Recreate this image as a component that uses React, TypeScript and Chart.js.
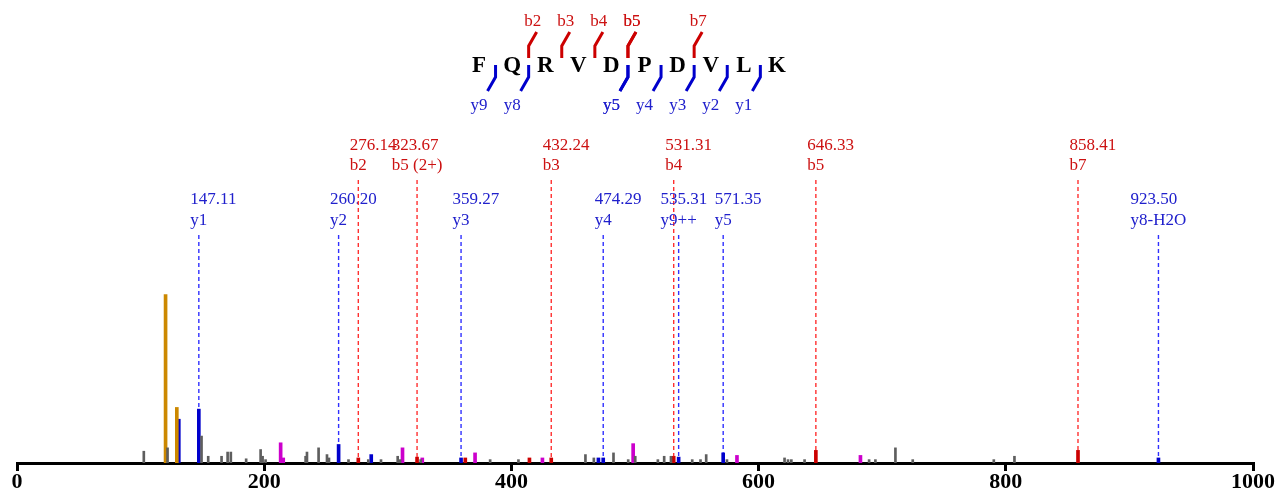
import React, { useEffect, useRef } from "react";
import { Chart, registerables } from "chart.js";

Chart.register(...registerables);

// ---------- data ----------
const sequence = ["F", "Q", "R", "V", "D", "P", "D", "V", "L", "K"];
const bFragments = [2, 3, 4, 5, 5, 7];
const yFragments = [9, 8, 5, 5, 4, 3, 2, 1];

const annotatedMz = [147.11, 260.2, 276.14, 323.67, 359.27, 432.24, 474.29, 531.31, 535.31, 571.35, 646.33, 858.41, 923.5];
const annotatedIon = ["y1", "y2", "b2", "b5 (2+)", "y3", "b3", "y4", "b4", "y9++", "y5", "b5", "b7", "y8-H2O"];
const annotatedIntensity = [32, 11, 3, 3.5, 3, 3, 3, 4, 3.5, 6, 7.5, 7.5, 3];

const orangeMz = [120.2, 129.3];
const orangeInt = [100, 33];
const blueMz = [130.9, 286.6, 470.4];
const blueInt = [26, 5, 3];
const redMz = [362.7, 414.6];
const redInt = [3, 3];
const magentaMz = [213.3, 215.4, 311.9, 327.9, 370.6, 425.1, 498.5, 582.5, 682.4];
const magentaInt = [12, 3, 9, 3, 6, 3, 11.5, 4.5, 4.5];
const grayMz = [102.6, 121.8, 149.3, 154.7, 165.5, 170.4, 173, 185.4, 197.1, 198.7, 201.1, 233.5, 234.6, 244, 250.8, 252.4, 268.2, 284.2, 294.5, 308, 309.9, 326.6, 382.8, 405.7, 459.9, 466.7, 482.6, 494.5, 500.2, 518.5, 523.6, 529.1, 546.3, 553, 557.6, 574.4, 621, 623.8, 626.5, 637.2, 689.4, 694.5, 710.7, 724.7, 790.3, 807];
const grayInt = [7, 9, 16, 4, 4, 6.5, 6.5, 2.5, 8, 4, 2, 4, 6.5, 9, 5, 3, 2, 2, 2, 4, 2, 2, 2, 2, 5, 3, 6, 2, 4, 2, 4, 4, 2, 2, 5, 2, 3, 2, 2, 2, 2, 2, 9, 2, 2, 4];

const xTickStep = 200;
const xMin = 0;
const xMax = 1000;

// ---------- styles ----------
const C_ORANGE = "#cc8800";
const C_BLUE = "#0000cc";
const C_RED = "#cc0000";
const C_MAGENTA = "#cc00cc";
const C_GRAY = "#5e5e5e";
const TXT_RED = "#cc1111";
const TXT_BLUE = "#2020cc";
const DASH_RED = "#ff3030";
const DASH_BLUE = "#3030ff";
const SERIF = '"Liberation Serif", "Times New Roman", serif';

const RED_TIER = { numberBase: 150, nameBase: 170, lineTop: 180 };
const BLUE_TIER = { numberBase: 204, nameBase: 224.5, lineTop: 235 };

const SEQ = { x0: 479, dx: 33.1, base: 72 };

const pts = (xs: number[], ys: number[]) => xs.map((x, i) => ({ x, y: ys[i] }));

const annotationPlugin = {
  id: "spectrumAnnotations",
  afterDatasetsDraw(chart: any) {
    const ctx = chart.ctx as CanvasRenderingContext2D;
    const xs = chart.scales.x;
    const ys = chart.scales.y;
    ctx.save();
    ctx.font = `17px ${SERIF}`;
    ctx.textBaseline = "alphabetic";
    ctx.textAlign = "left";
    annotatedMz.forEach((mz, i) => {
      const ion = annotatedIon[i];
      const isB = ion[0] === "b";
      const tier = isB ? RED_TIER : BLUE_TIER;
      const x = xs.getPixelForValue(mz);
      const yTop = ys.getPixelForValue(annotatedIntensity[i]);
      ctx.strokeStyle = isB ? DASH_RED : DASH_BLUE;
      ctx.lineWidth = 1.4;
      ctx.setLineDash([4, 3]);
      ctx.beginPath();
      ctx.moveTo(x, tier.lineTop);
      ctx.lineTo(x, yTop);
      ctx.stroke();
      ctx.setLineDash([]);
      ctx.fillStyle = isB ? TXT_RED : TXT_BLUE;
      const w = ctx.measureText(ion).width;
      const left = x - w / 2;
      ctx.fillText(mz.toFixed(2), left, tier.numberBase);
      ctx.fillText(ion, left, tier.nameBase);
    });

    // peptide sequence
    ctx.font = `bold 23px ${SERIF}`;
    ctx.textAlign = "center";
    ctx.fillStyle = "#000";
    sequence.forEach((aa, i) => {
      ctx.fillText(aa, SEQ.x0 + i * SEQ.dx, SEQ.base);
    });
    ctx.lineWidth = 3;
    ctx.font = `17px ${SERIF}`;
    const L = sequence.length;
    bFragments.forEach((n) => {
      const gx = SEQ.x0 + (n - 1) * SEQ.dx + SEQ.dx / 2;
      ctx.strokeStyle = C_RED;
      ctx.beginPath();
      ctx.moveTo(gx, 58);
      ctx.lineTo(gx, 46);
      ctx.lineTo(gx + 8, 32);
      ctx.stroke();
      ctx.fillStyle = TXT_RED;
      ctx.fillText("b" + n, gx + 4, 26);
    });
    yFragments.forEach((n) => {
      const gx = SEQ.x0 + (L - n - 1) * SEQ.dx + SEQ.dx / 2;
      ctx.strokeStyle = C_BLUE;
      ctx.beginPath();
      ctx.moveTo(gx, 65);
      ctx.lineTo(gx, 77);
      ctx.lineTo(gx - 8, 91);
      ctx.stroke();
      ctx.fillStyle = TXT_BLUE;
      ctx.fillText("y" + n, gx - 16.5, 110);
    });
    ctx.restore();
  },
};

export default function App() {
  const canvasRef = useRef<HTMLCanvasElement | null>(null);

  useEffect(() => {
    const canvas = canvasRef.current;
    if (!canvas) return;
    const annotatedColored = (prefix: string) =>
      pts(
        annotatedMz.filter((_, i) => annotatedIon[i][0] === prefix),
        annotatedIntensity.filter((_, i) => annotatedIon[i][0] === prefix)
      );
    const chart = new Chart(canvas, {
      type: "bar",
      data: {
        datasets: [
          { label: "other", data: pts(grayMz, grayInt), backgroundColor: C_GRAY, barThickness: 2 },
          { label: "magenta", data: pts(magentaMz, magentaInt), backgroundColor: C_MAGENTA, barThickness: 3 },
          { label: "orange", data: pts(orangeMz, orangeInt), backgroundColor: C_ORANGE, barThickness: 3 },
          { label: "y", data: [...pts(blueMz, blueInt), ...annotatedColored("y")], backgroundColor: C_BLUE, barThickness: 3 },
          { label: "b", data: [...pts(redMz, redInt), ...annotatedColored("b")], backgroundColor: C_RED, barThickness: 3 },
        ] as any,
      },
      options: {
        animation: false,
        responsive: true,
        maintainAspectRatio: false,
        layout: { padding: { left: 17, right: 22, top: 0, bottom: 0 } },
        plugins: { legend: { display: false }, tooltip: { enabled: false } },
        datasets: { bar: { grouped: false } } as any,
        scales: {
          x: {
            type: "linear",
            min: xMin,
            max: xMax,
            offset: false,
            grid: { display: true, drawOnChartArea: false, drawTicks: true, tickLength: 8, lineWidth: 3, color: "#000", offset: false },
            border: { display: true, color: "#000", width: 3 },
            ticks: {
              stepSize: xTickStep,
              padding: 0,
              color: "#000",
              maxRotation: 0,
              callback: (v: any) => String(v),
              font: { family: SERIF, weight: "bold", size: 22, lineHeight: 1 },
            },
            afterFit: (scale: any) => {
              scale.height = 34;
            },
          },
          y: {
            type: "linear",
            display: false,
            min: 0,
            max: 275,
          },
        },
      } as any,
      plugins: [annotationPlugin],
    });
    return () => chart.destroy();
  }, []);

  return (
    <div style={{ position: "fixed", left: 0, top: 0, width: 1275, height: 497, background: "#fff" }}>
      <canvas ref={canvasRef} />
    </div>
  );
}
